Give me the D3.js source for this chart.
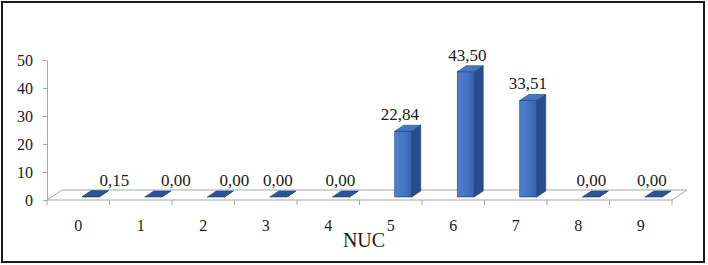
<!DOCTYPE html>
<html>
<head>
<meta charset="utf-8">
<script src="https://cdn.jsdelivr.net/npm/d3@7"></script>
<style>
  body { margin: 0; background: #fff; }
  svg { display: block; font-family: "Liberation Serif", "Times New Roman", serif; }
</style>
</head>
<body>
<div id="chart"></div>
<script>
  // chart data
  const categories = ['0', '1', '2', '3', '4', '5', '6', '7', '8', '9'];
  const values = [0.15, 0, 0, 0, 0, 22.84, 43.50, 33.51, 0, 0];
  const yTicks = [0, 10, 20, 30, 40, 50];
  const axisTitle = 'NUC';

  // small horizontal nudges for value labels (as placed in the original)
  const labelNudge = [24, 23, 19, 0, 0, -3, 2, 0, 1, -1];

  const width = 708, height = 265;
  const fmt = v => v.toFixed(2).replace('.', ',');

  const svg = d3.select('#chart').append('svg')
    .attr('width', width)
    .attr('height', height);

  // gradient for bar fronts
  const defs = svg.append('defs');
  const grad = defs.append('linearGradient').attr('id', 'barFront')
    .attr('x1', 0).attr('x2', 1).attr('y1', 0).attr('y2', 0);
  grad.append('stop').attr('offset', '0%').attr('stop-color', '#4f80cf');
  grad.append('stop').attr('offset', '60%').attr('stop-color', '#4373c2');
  grad.append('stop').attr('offset', '100%').attr('stop-color', '#3762ab');

  // outer frame
  svg.append('rect')
    .attr('x', 2).attr('y', 2)
    .attr('width', 702).attr('height', 260)
    .attr('fill', 'none')
    .attr('stroke', '#1a1a1a')
    .attr('stroke-width', 2);

  // scales
  const x = d3.scaleBand().domain(categories).range([47, 672]);
  const y = d3.scaleLinear().domain([0, 50]).range([200, 60]);
  const yBar = d3.scaleLinear().domain([0, 50]).range([197, 53]);

  const depthX = 15, depthY = 10;   // floor depth
  const barW = 17, barDX = 9, barDY = 6;

  // floor
  const [fx0, fx1] = x.range();
  svg.append('path')
    .attr('d', `M${fx0},${y(0)} L${fx0 + depthX},${y(0) - depthY} L${fx1 + depthX},${y(0) - depthY} L${fx1},${y(0)} Z`)
    .attr('fill', '#fff')
    .attr('stroke', '#a6a6a6')
    .attr('stroke-width', 1);

  // y axis
  const yAxis = svg.append('g')
    .attr('transform', `translate(${fx0},0)`)
    .call(d3.axisLeft(y).tickValues(yTicks).tickSize(4).tickSizeOuter(0).tickPadding(10));
  yAxis.select('.domain').attr('stroke', '#a6a6a6');
  yAxis.selectAll('.tick line').attr('stroke', '#a6a6a6');
  yAxis.selectAll('.tick text')
    .style('font-family', '"Liberation Serif", serif')
    .style('font-size', '16px')
    .attr('fill', '#1a1a1a');

  // x axis: labels at category centres, tick marks at category borders
  const xAxis = svg.append('g')
    .attr('transform', `translate(0,${y(0)})`)
    .call(d3.axisBottom(x).tickSize(0).tickPadding(20));
  xAxis.select('.domain').remove();
  xAxis.selectAll('.tick text')
    .style('font-family', '"Liberation Serif", serif')
    .style('font-size', '16px')
    .attr('fill', '#1a1a1a');

  const borders = categories.map(c => x(c)).concat([fx1]);
  svg.append('g').selectAll('line')
    .data(borders)
    .enter()
    .append('line')
    .attr('x1', d => d).attr('x2', d => d)
    .attr('y1', y(0)).attr('y2', y(0) + 5)
    .attr('stroke', '#a6a6a6');

  // bars
  const bars = svg.append('g').selectAll('.bar')
    .data(categories.map((c, i) => ({ cat: c, value: values[i], i })))
    .enter()
    .append('g')
    .attr('class', 'bar');

  const bx0 = d => x(d.cat) + x.bandwidth() / 2 + 4;
  const bx1 = d => bx0(d) + barW;
  const yb = yBar(0);

  // side face
  bars.append('path')
    .attr('d', d => {
      const t = yBar(d.value);
      return `M${bx1(d)},${t} L${bx1(d) + barDX},${t - barDY} L${bx1(d) + barDX},${yb - barDY} L${bx1(d)},${yb} Z`;
    })
    .attr('fill', '#284d8c')
    .attr('stroke', '#1f3f73')
    .attr('stroke-width', 0.6);

  // front face
  bars.append('rect')
    .attr('x', bx0)
    .attr('y', d => yBar(d.value))
    .attr('width', barW)
    .attr('height', d => yb - yBar(d.value))
    .attr('fill', 'url(#barFront)')
    .attr('stroke', '#1f3f73')
    .attr('stroke-width', 0.6);

  // top face
  bars.append('path')
    .attr('d', d => {
      const t = yBar(d.value);
      return `M${bx0(d)},${t} L${bx0(d) + barDX},${t - barDY} L${bx1(d) + barDX},${t - barDY} L${bx1(d)},${t} Z`;
    })
    .attr('fill', d => d.value > 1 ? '#4677c6' : '#2c5597')
    .attr('stroke', '#1f3f73')
    .attr('stroke-width', 0.6);

  // value labels
  svg.append('g').selectAll('text')
    .data(categories.map((c, i) => ({ cat: c, value: values[i], i })))
    .enter()
    .append('text')
    .attr('x', d => x(d.cat) + x.bandwidth() / 2 + 12 + labelNudge[d.i])
    .attr('y', d => yBar(d.value) - 11)
    .attr('text-anchor', 'middle')
    .style('font-size', '17px')
    .attr('fill', '#1a1a1a')
    .text(d => fmt(d.value));

  // axis title
  svg.append('text')
    .attr('x', 364)
    .attr('y', 247)
    .attr('text-anchor', 'middle')
    .style('font-size', '20px')
    .attr('fill', '#1a1a1a')
    .text(axisTitle);
</script>
</body>
</html>
